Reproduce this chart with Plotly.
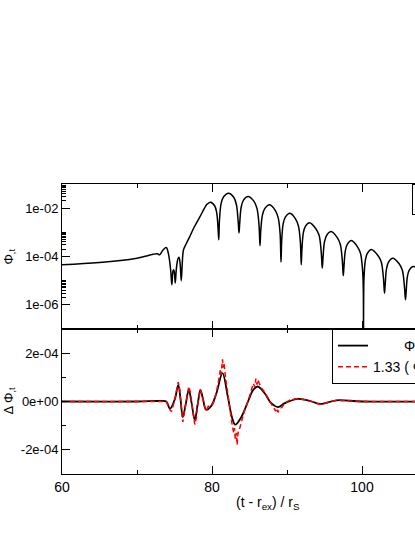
import plotly.graph_objects as go

# ---------------- data ----------------
# top panel: Phi_,t (log10 of value)
t_top = [60, 65, 70, 72.7, 73.0, 73.5, 73.9, 74.2, 74.5, 74.65, 74.8, 74.9, 75.0, 75.1, 75.25,
         75.45, 75.6, 75.75, 75.9, 76.05, 76.2, 76.6, 77.0, 77.6, 78.4, 79.0, 79.3, 79.8,
         80.35, 80.62, 80.81, 80.9,
         81.0, 81.22, 81.55, 82.2, 82.9, 83.25, 83.49, 83.6,
         83.7, 83.9, 84.2, 84.8, 85.6, 86.0, 86.27, 86.4,
         86.5, 86.73, 87.05, 87.7, 88.45, 88.83, 89.08, 89.2,
         89.3, 89.5, 89.8, 90.4, 91.15, 91.53, 91.78, 91.9,
         91.99, 92.18, 92.45, 93.0, 93.85, 94.28, 94.56, 94.7,
         94.8, 95.0, 95.3, 95.9, 96.7, 97.1, 97.37, 97.5,
         97.59, 97.78, 98.05, 98.6, 99.4, 99.8, 100.07, 100.17, 100.2,
         100.23, 100.28, 100.46, 100.73, 101.25, 102.1, 102.56, 102.86, 103.0,
         103.09, 103.28, 103.55, 104.1, 104.95, 105.38, 105.66, 105.8,
         105.88, 106.05, 106.3, 106.8, 107.6, 108.0, 108.25, 108.4,
         108.5, 108.7, 109.0, 109.5]
log10_phi_t = [-4.34, -4.25, -4.07, -3.89, -3.93, -3.72, -3.63, -3.9, -4.6, -5.17, -4.6, -4.55, -4.7, -5.1, -4.5,
               -4.1, -4.03, -4.3, -5.0, -4.2, -3.72, -3.45, -3.2, -2.8, -2.35, -2.0, -1.85, -1.75,
               -1.9, -2.17, -2.85, -3.31,
               -2.48, -1.80, -1.53, -1.38, -1.55, -1.85, -2.55, -3.03,
               -2.6, -1.94, -1.67, -1.52, -1.72, -2.02, -2.7, -3.56,
               -2.95, -2.28, -2.01, -1.86, -2.1, -2.4, -3.05, -4.23,
               -3.3, -2.63, -2.36, -2.21, -2.45, -2.75, -3.4, -4.34,
               -3.7, -3.02, -2.75, -2.6, -2.85, -3.12, -3.8, -4.48,
               -4.07, -3.39, -3.12, -2.97, -3.22, -3.49, -4.15, -4.79,
               -4.44, -3.76, -3.49, -3.34, -3.6, -3.87, -4.55, -5.3, -7.2,
               -5.3, -4.81, -4.13, -3.86, -3.71, -3.95, -4.22, -4.9, -5.52,
               -5.17, -4.49, -4.22, -4.07, -4.3, -4.57, -5.25, -5.79,
               -5.5, -4.83, -4.56, -4.41, -4.56, -4.83, -5.5, -6.1,
               -5.8, -5.15, -4.9, -4.75]
phi_t = [10 ** v for v in log10_phi_t]

# bottom panel: differences (units of 1e-4)
t_diff = [60, 70, 73.0, 73.9, 74.4, 75.05, 75.5, 75.8, 76.1, 76.5, 76.9, 77.3, 77.7, 78.1, 78.45, 78.8,
          79.2, 79.9, 80.6, 81.4, 82.1, 82.7, 83.1, 83.9, 84.8, 85.5, 86.1, 87.0, 87.9, 88.8, 89.7,
          91.5, 93.3, 94.4, 96.6, 100, 110]
d_phi_1e4 = [0, 0, 0.02, 0.0, -0.30, 0.1, 0.69, 0.1, -0.65, -0.1, 0.48, -0.1, -0.76, -0.1, 0.48, 0.1,
             -0.34, -0.18, 0.35, 1.17, 0.21, -0.69, -0.96, -0.65, 0.0, 0.48, 0.62, 0.35, -0.07, -0.23, -0.07,
             0.11, 0.0, -0.1, 0.05, 0.0, 0.0]

t_diff_scaled = [60, 70, 73.0, 73.9, 74.4, 74.6, 75.05, 75.5, 75.7, 75.8, 76.1, 76.3, 76.5, 76.9, 77.1, 77.3,
                 77.7, 77.9, 78.1, 78.45, 78.8, 79.2, 79.5, 79.9, 80.2, 80.6, 80.9, 81.1, 81.2, 81.4, 81.5,
                 81.6, 81.8, 82.1, 82.4, 82.7, 82.9, 83.0, 83.1, 83.25, 83.35, 83.5, 83.7, 83.9, 84.3,
                 84.8, 85.2, 85.5, 85.7, 85.85, 86.0, 86.1, 86.3, 86.6, 87.0, 87.5, 87.9, 88.3, 88.5,
                 88.7, 88.8, 89.0, 89.3, 89.7, 90.5, 91.5, 92.2, 93.3, 94.4, 96.6, 100, 110]
d_phi_scaled_1e4 = [0, 0, 0.02, 0.0, -0.35, -0.42, 0.1, 0.8, 0.5, 0.2, -0.85, -0.5, -0.1, 0.62, 0.4, -0.1,
                    -0.95, -0.7, -0.1, 0.5, 0.05, -0.4, -0.2, -0.2, -0.05, 0.4, 0.9, 1.3, 1.1, 1.75, 1.4,
                    1.6, 1.0, 0.3, -0.3, -1.0, -1.3, -1.1, -1.55, -1.3, -1.8, -1.2, -1.1, -0.85, -0.4,
                    0.0, 0.4, 0.75, 0.6, 0.95, 0.7, 0.9, 0.75, 0.55, 0.4, 0.1, -0.1, -0.3, -0.4,
                    -0.28, -0.45, -0.3, -0.25, -0.07, 0.08, 0.13, 0.08, 0.0, -0.12, 0.05, 0.0, 0.0]

d_phi = [v * 1e-4 for v in d_phi_1e4]
d_phi_scaled = [v * 1e-4 for v in d_phi_scaled_1e4]

x_ticks = [60, 80, 100]
x_ticklabels = ["60", "80", "100"]
x_minor = [70, 90]
top_ticks = [1e-6, 1e-4, 1e-2]
top_ticklabels = ["1e-06", "1e-04", "1e-02"]
bot_ticks = [-2e-4, 0, 2e-4]
bot_ticklabels = ["-2e-04", "0e+00", "2e-04"]

# ---------------- figure ----------------
FONT = "Liberation Sans, Arial, sans-serif"
W, H = 415, 537
L, R, T, B = 62, 0, 184, 63
PW = W - L - R
X_MAX = 60 + PW / 7.5   # visible part of the time axis
NB = "\u00a0"

fig = go.Figure()

fig.add_trace(go.Scatter(x=t_top, y=phi_t, mode="lines", line=dict(color="black", width=1.5),
                         line_shape="spline",
                         name="Φ<sub>,t</sub>", xaxis="x2", yaxis="y2", legend="legend2"))
fig.add_trace(go.Scatter(x=t_diff, y=d_phi, mode="lines", line=dict(color="black", width=1.8),
                         name=NB * 8 + "Φ<sub>,t</sub>(r<sub>1</sub>) - Φ<sub>,t</sub>(r<sub>2</sub>)",
                         xaxis="x", yaxis="y", line_shape="spline"))
fig.add_trace(go.Scatter(x=t_diff_scaled, y=d_phi_scaled, mode="lines",
                         line=dict(color="red", width=1.5, dash="5px,3px"),
                         name="1.33 ( Φ<sub>,t</sub>(r<sub>2</sub>) - Φ<sub>,t</sub>(r<sub>3</sub>) )",
                         xaxis="x", yaxis="y"))

# minor ticks for the log axis: 2..10 x 1e-6, 1e-4, 1e-2
log_minor = []
for base in [1e-6, 1e-4, 1e-2]:
    for k in range(2, 11):
        log_minor.append(k * base)

axis_common = dict(showgrid=False, zeroline=False, showline=True, linecolor="black", linewidth=1,
                   ticks="inside", tickcolor="black", ticklen=8, tickwidth=1)

fig.update_layout(
    width=W, height=H,
    margin=dict(l=L, r=R, t=T, b=B, autoexpand=False),
    paper_bgcolor="white", plot_bgcolor="white",
    font=dict(family=FONT, color="black"),
    xaxis=dict(**axis_common, mirror="allticks", domain=[0, 1], range=[60, X_MAX], anchor="y",
               tickmode="array", tickvals=x_ticks, ticktext=x_ticklabels,
               tickfont=dict(size=14),
               minor=dict(tickmode="array", tickvals=x_minor, ticklen=4, ticks="inside", tickcolor="black")),
    yaxis=dict(**axis_common, domain=[0, 0.5], range=[-3e-4, 3e-4], anchor="x",
               tickmode="array", tickvals=bot_ticks, ticktext=bot_ticklabels,
               tickfont=dict(size=13),
               minor=dict(tickmode="array", tickvals=[-1e-4, 1e-4], ticklen=4, ticks="inside", tickcolor="black")),
    xaxis2=dict(**axis_common, mirror="allticks", domain=[0, 1], range=[60, X_MAX], anchor="y2", matches="x",
                tickmode="array", tickvals=x_ticks, showticklabels=False,
                minor=dict(tickmode="array", tickvals=x_minor, ticklen=4, ticks="inside", tickcolor="black")),
    yaxis2=dict(**axis_common, domain=[0.5, 1], type="log", range=[-7, -1], anchor="x2",
                tickmode="array", tickvals=top_ticks, ticktext=top_ticklabels,
                tickfont=dict(size=13),
                minor=dict(tickmode="array", tickvals=log_minor, ticklen=4, ticks="inside", tickcolor="black")),
    legend=dict(x=(332 - L) / PW, y=0.5, xanchor="left", yanchor="top",
                bordercolor="black", borderwidth=1, bgcolor="white",
                font=dict(size=14), tracegroupgap=0, itemwidth=30),
    legend2=dict(x=(412 - L) / PW, y=1.0, xanchor="left", yanchor="top",
                 bordercolor="black", borderwidth=1, bgcolor="white", font=dict(size=9)),
    annotations=[
        dict(text="Φ<sub>,t</sub>", xref="paper", yref="paper", x=0, y=0.75, xshift=-53,
             textangle=-90, showarrow=False, font=dict(size=13), xanchor="center", yanchor="middle"),
        dict(text="Δ Φ<sub>,t</sub>", xref="paper", yref="paper", x=0, y=0.25, xshift=-53,
             textangle=-90, showarrow=False, font=dict(size=13), xanchor="center", yanchor="middle"),
        dict(text="(t - r<sub>ex</sub>) / r<sub>S</sub>", xref="paper", yref="paper",
             x=(268 - L) / PW, y=0, yshift=-29, showarrow=False, font=dict(size=14),
             xanchor="center", yanchor="middle"),
    ],
)

fig.write_html("out.html", config={"displayModeBar": False},
               post_script="document.body.style.margin='0';document.body.style.overflow='hidden';")
